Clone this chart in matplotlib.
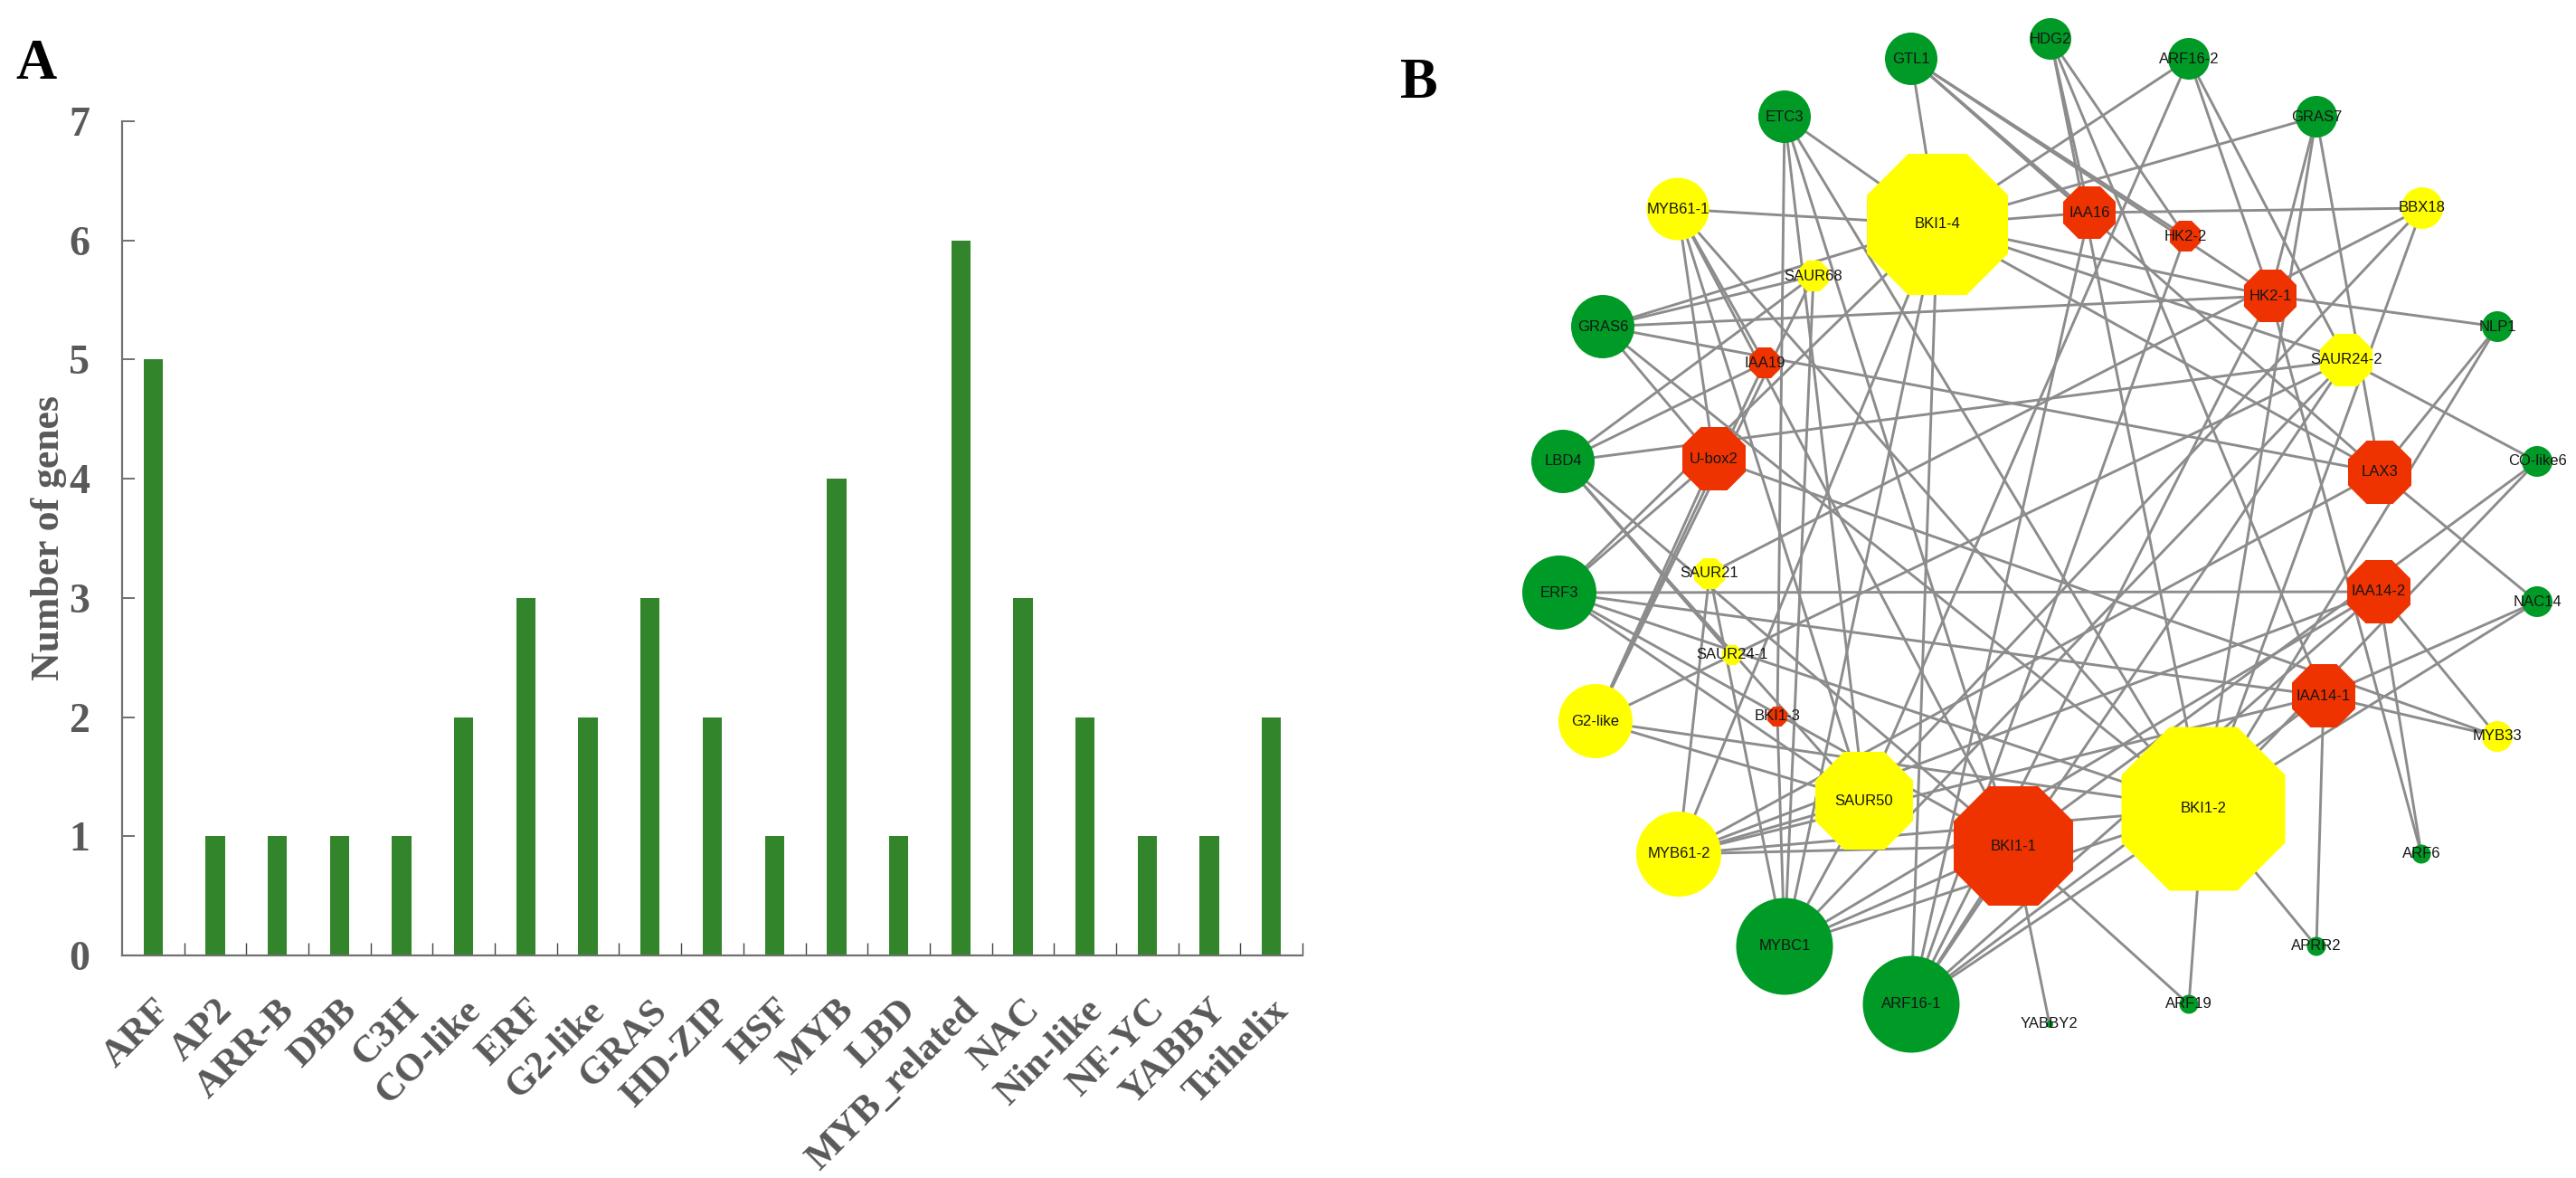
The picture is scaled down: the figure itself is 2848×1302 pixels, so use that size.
import numpy as np
from matplotlib import pyplot as plt
from matplotlib.patches import Circle, RegularPolygon

# panel A
families = ["ARF", "AP2", "ARR-B", "DBB", "C3H", "CO-like", "ERF", "G2-like", "GRAS", "HD-ZIP",
            "HSF", "MYB", "LBD", "MYB_related", "NAC", "Nin-like", "NF-YC", "YABBY", "Trihelix"]
gene_counts = [5, 1, 1, 1, 1, 2, 3, 2, 3, 2, 1, 4, 1, 6, 3, 2, 1, 1, 2]
y_ticks = [0, 1, 2, 3, 4, 5, 6, 7]

# panel B, layout in image pixels
node_names = ["GTL1", "ETC3", "MYB61-1", "BKI1-4", "SAUR68", "GRAS6", "IAA19", "LBD4", "U-box2",
              "HDG2", "ARF16-2", "GRAS7", "IAA16", "HK2-2", "BBX18", "HK2-1", "NLP1", "SAUR24-2",
              "LAX3", "CO-like6", "ERF3", "SAUR21", "SAUR24-1", "G2-like", "BKI1-3", "SAUR50",
              "MYB61-2", "BKI1-1", "MYBC1", "ARF16-1", "IAA14-2", "NAC14", "IAA14-1", "MYB33",
              "BKI1-2", "ARF6", "APRR2", "ARF19", "YABBY2"]
node_x = [2113, 1973, 1855, 2142, 2005, 1772, 1951, 1728, 1895,
          2267, 2420, 2561, 2310, 2416, 2678, 2510, 2761, 2594,
          2631, 2805, 1724, 1890, 1915, 1764, 1965, 2061,
          1856, 2226, 1973, 2113, 2630, 2805, 2569, 2761,
          2436, 2677, 2561, 2420, 2266]
node_y = [65, 129, 231, 248, 305, 361, 401, 510, 507,
          43, 65, 129, 235, 261, 230, 327, 361, 398,
          522, 510, 655, 634, 724, 797, 792, 885,
          944, 935, 1046, 1110, 654, 665, 769, 814,
          894, 944, 1046, 1110, 1132]
node_r = [29, 29, 34.5, 78, 17, 35, 17, 35, 35,
          23, 23, 23, 29, 17, 23, 29, 17, 29,
          35, 17, 41, 17, 11, 41, 11, 54,
          47, 66, 53.5, 53.5, 35, 17, 35, 17,
          90.5, 10.5, 10.5, 10.5, 4]
node_col = ["g", "g", "y", "y", "y", "g", "r", "g", "r",
            "g", "g", "g", "r", "r", "y", "r", "g", "y",
            "r", "g", "g", "y", "y", "y", "r", "y",
            "y", "r", "g", "g", "r", "g", "r", "y",
            "y", "g", "g", "g", "g"]
octagons = ["BKI1-4", "SAUR68", "IAA19", "U-box2", "IAA16", "HK2-2", "HK2-1", "SAUR24-2", "LAX3",
            "SAUR21", "SAUR24-1", "BKI1-3", "SAUR50", "BKI1-1", "IAA14-2", "IAA14-1", "BKI1-2"]

edges = {
    "GTL1": ["BKI1-4", "HK2-2", "HK2-1", "LAX3", "IAA16"],
    "ETC3": ["BKI1-4", "BKI1-3", "SAUR50", "BKI1-1", "BKI1-2"],
    "MYB61-1": ["BKI1-4", "U-box2", "SAUR50", "IAA19", "BKI1-2", "BKI1-1"],
    "GRAS6": ["SAUR68", "BKI1-4", "HK2-1", "LAX3", "BKI1-2", "U-box2"],
    "LBD4": ["SAUR24-2", "SAUR68", "IAA19", "SAUR50", "BKI1-1", "SAUR24-1"],
    "ERF3": ["IAA14-2", "IAA14-1", "U-box2", "BKI1-4", "BKI1-2", "SAUR50", "BKI1-1"],
    "G2-like": ["U-box2", "IAA19", "SAUR68", "SAUR24-2", "SAUR50", "BKI1-2"],
    "MYB61-2": ["SAUR21", "BKI1-4", "SAUR50", "BKI1-1", "BKI1-2", "IAA14-1", "IAA14-2", "LAX3"],
    "MYBC1": ["SAUR21", "BKI1-3", "SAUR68", "BKI1-4", "SAUR50", "SAUR24-2", "IAA14-2", "BKI1-2", "BKI1-1"],
    "ARF16-1": ["BKI1-4", "BKI1-1", "IAA16", "HK2-2", "HK2-1", "BKI1-2", "IAA14-1", "IAA14-2", "SAUR24-2"],
    "HDG2": ["IAA16", "HK2-2", "IAA14-1", "BKI1-2"],
    "ARF16-2": ["BKI1-4", "SAUR50", "HK2-1", "SAUR24-2"],
    "GRAS7": ["BKI1-4", "HK2-1", "BKI1-2", "LAX3"],
    "BBX18": ["IAA16", "SAUR21", "SAUR50", "BKI1-2"],
    "NLP1": ["HK2-1", "LAX3", "BKI1-2"],
    "CO-like6": ["SAUR24-2", "BKI1-1", "BKI1-2"],
    "NAC14": ["LAX3", "IAA14-1", "BKI1-2"],
    "MYB33": ["IAA14-2", "IAA14-1", "U-box2"],
    "ARF6": ["IAA14-2", "HK2-1"],
    "APRR2": ["IAA14-1", "BKI1-2"],
    "ARF19": ["BKI1-1", "BKI1-2"],
    "YABBY2": ["BKI1-1"],
    "BKI1-4": ["IAA16", "HK2-1", "SAUR24-2", "LAX3"],
}

W, H = 2848, 1302
colors = {"g": "#009a26", "y": "#ffff00", "r": "#ef3300"}
grey = "#595959"

plt.rcParams["font.family"] = ["Liberation Serif", "DejaVu Serif"]
fig = plt.figure(figsize=(W / 100, H / 100), dpi=100, facecolor="white")

# bar chart
ax = fig.add_axes([135 / W, 1 - 1056 / H, 1305 / W, 922 / H])
pos = np.arange(len(families))
ax.bar(pos, gene_counts, width=0.31, color="#33852b")
ax.set_xlim(-0.5, len(families) - 0.5)
ax.set_ylim(0, 7)
for s in ["top", "right"]:
    ax.spines[s].set_visible(False)
for s in ["left", "bottom"]:
    ax.spines[s].set_color("#707070")
    ax.spines[s].set_linewidth(1.6)
ax.set_yticks(y_ticks)
ax.set_yticklabels([str(v) for v in y_ticks], fontsize=33, fontweight="bold", color=grey)
ax.tick_params(axis="y", direction="in", length=10, width=1.4, color="#707070", pad=26)
ax.set_xticks(pos + 0.5)
ax.set_xticklabels([])
ax.tick_params(axis="x", which="major", direction="in", length=10, width=1, color="#444444")
ax.set_xticks(pos, minor=True)
ax.set_xticklabels(families, minor=True, rotation=45, ha="right", va="top", rotation_mode="anchor",
                   fontsize=31, fontweight="bold", color=grey)
ax.tick_params(axis="x", which="minor", length=0, pad=30)
ax.set_ylabel("Number of genes", fontsize=31.5, fontweight="bold", color=grey)
ax.yaxis.set_label_coords(-0.047, 0.5)

# network, axes span the whole figure in image pixels
net = fig.add_axes([0, 0, 1, 1], zorder=3)
net.set_xlim(0, W)
net.set_ylim(H, 0)
net.axis("off")
net.patch.set_alpha(0)

idx = {n: i for i, n in enumerate(node_names)}
for src, targets in edges.items():
    for t in targets:
        a, b = idx[src], idx[t]
        net.plot([node_x[a], node_x[b]], [node_y[a], node_y[b]], color="#8c8c8c", lw=2.1, zorder=1,
                 solid_capstyle="butt")

for name, x, y, r, c in zip(node_names, node_x, node_y, node_r, node_col):
    if name in octagons:
        shape = RegularPolygon((x, y), 8, radius=r / np.cos(np.pi / 8), orientation=np.pi / 8,
                               facecolor=colors[c], edgecolor="none", zorder=2)
    else:
        shape = Circle((x, y), r, facecolor=colors[c], edgecolor="none", zorder=2)
    net.add_patch(shape)
    net.text(x, y, name, ha="center", va="center", fontsize=12, family="Liberation Sans",
             color="#151515", zorder=3)

net.text(17, 87, "A", fontsize=45, fontweight="bold", color="black", ha="left", va="baseline")
net.text(1548, 108, "B", fontsize=45, fontweight="bold", color="black", ha="left", va="baseline")

fig.savefig("out.png", dpi=100)
